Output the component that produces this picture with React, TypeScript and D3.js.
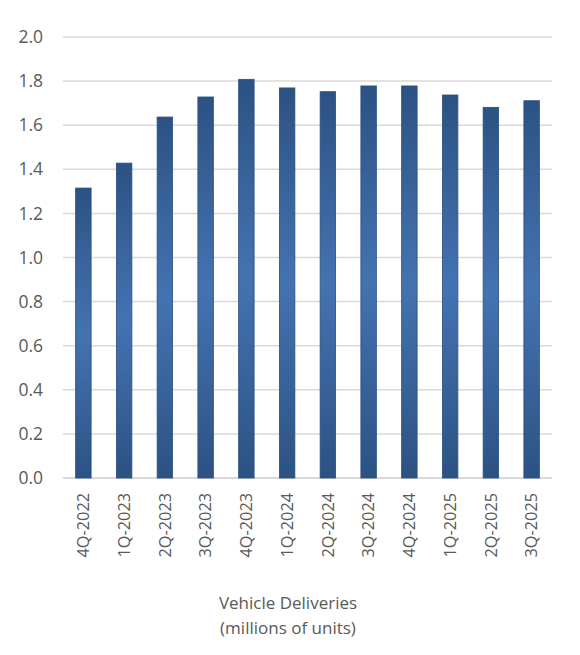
import React, { useEffect, useRef } from 'react';
import * as d3 from 'd3';

const quarters = [
  '4Q-2022', '1Q-2023', '2Q-2023', '3Q-2023', '4Q-2023', '1Q-2024',
  '2Q-2024', '3Q-2024', '4Q-2024', '1Q-2025', '2Q-2025', '3Q-2025',
];
const deliveries = [1.315, 1.428, 1.637, 1.728, 1.808, 1.769, 1.752, 1.778, 1.778, 1.737, 1.681, 1.711];
const yTicks = [0, 0.2, 0.4, 0.6, 0.8, 1.0, 1.2, 1.4, 1.6, 1.8, 2.0];
const titleLines = ['Vehicle Deliveries', '(millions of units)'];

const App: React.FC = () => {
  const svgRef = useRef<SVGSVGElement | null>(null);

  useEffect(() => {
    const svg = d3.select(svgRef.current);
    svg.selectAll('*').remove();

    const font = "'Open Sans', 'Noto Sans', sans-serif";
    const textColor = '#595959';

    const x = d3.scaleBand<string>().domain(quarters).range([63, 552]).paddingInner(0.62).paddingOuter(0.31);
    const y = d3.scaleLinear().domain([0, 2]).range([478, 37]);

    const defs = svg.append('defs');
    const grad = defs.append('linearGradient')
      .attr('id', 'barGrad')
      .attr('x1', 0).attr('y1', 0).attr('x2', 0).attr('y2', 1);
    grad.append('stop').attr('offset', '0%').attr('stop-color', '#2c5283');
    grad.append('stop').attr('offset', '50%').attr('stop-color', '#4473b2');
    grad.append('stop').attr('offset', '100%').attr('stop-color', '#2c5283');

    // gridlines
    svg.append('g')
      .selectAll('line')
      .data(yTicks)
      .join('line')
      .attr('x1', 63)
      .attr('x2', 552)
      .attr('y1', (d) => y(d))
      .attr('y2', (d) => y(d))
      .attr('stroke', '#d9d9d9')
      .attr('stroke-width', (d) => (d === 0 ? 2 : 1.5));

    // y tick labels
    svg.append('g')
      .selectAll('text')
      .data(yTicks)
      .join('text')
      .attr('x', 43)
      .attr('y', (d) => y(d))
      .attr('dy', '0.35em')
      .attr('text-anchor', 'end')
      .attr('font-family', font)
      .attr('font-size', 17.5)
      .attr('fill', textColor)
      .text((d) => d.toFixed(1));

    // bars
    svg.append('g')
      .selectAll('rect')
      .data(deliveries)
      .join('rect')
      .attr('x', (_, i) => x(quarters[i]) as number)
      .attr('y', (d) => y(d))
      .attr('width', x.bandwidth())
      .attr('height', (d) => y(0) - y(d))
      .attr('fill', 'url(#barGrad)')
      .attr('stroke', '#2a4f7e')
      .attr('stroke-width', 0.8);

    // x labels, rotated
    svg.append('g')
      .selectAll('text')
      .data(quarters)
      .join('text')
      .attr('transform', (d) => `translate(${(x(d) as number) + x.bandwidth() / 2},493) rotate(-90)`)
      .attr('dy', '0.35em')
      .attr('text-anchor', 'end')
      .attr('font-family', font)
      .attr('font-size', 16.3)
      .attr('fill', textColor)
      .text((d) => d);

    // axis title
    svg.append('g')
      .selectAll('text')
      .data(titleLines)
      .join('text')
      .attr('x', 288)
      .attr('y', (_, i) => 609 + i * 25)
      .attr('text-anchor', 'middle')
      .attr('font-family', font)
      .attr('font-size', 17)
      .attr('fill', textColor)
      .text((d) => d);
  }, []);

  return (
    <svg
      ref={svgRef}
      width={580}
      height={655}
      style={{ position: 'absolute', left: 0, top: 0, background: '#fff' }}
    ></svg>
  );
};

export default App;
